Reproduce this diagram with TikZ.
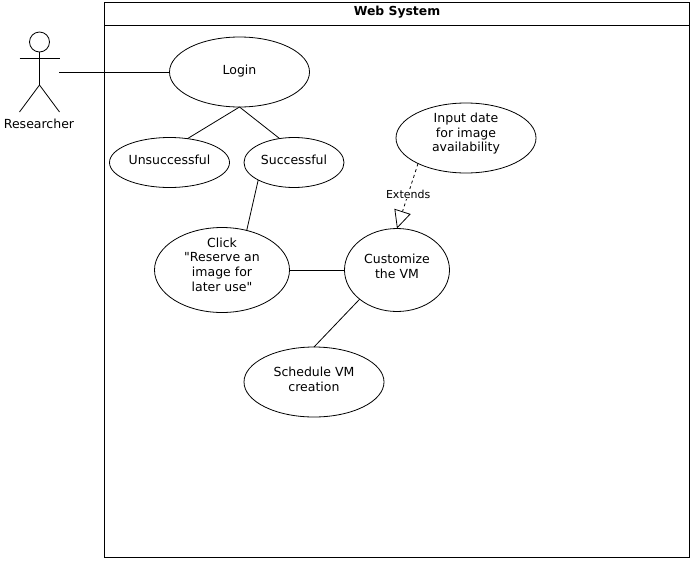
\documentclass[tikz,border=0pt]{standalone}
\usepackage{fontspec}
\setmainfont{DejaVu Sans}
\newfontfamily\plainquotes{DejaVu Sans}
\usetikzlibrary{arrows.meta}
\usetikzlibrary{shapes.geometric}

\tikzset{
  every picture/.style={line width=0.8pt},
  usecase/.style={draw, ellipse, inner sep=-10pt, outer sep=0pt, align=center, font=\plainquotes\fontsize{12.5}{14.7}\selectfont},
  frame/.style={draw, rectangle, inner sep=0pt, outer sep=0pt, minimum width=585pt}
}
% pushes the text of a node up by the given length
\newcommand{\lift}[1]{\rule[-#1]{0pt}{#1}}

\begin{document}
\begin{tikzpicture}[x=1pt, y=-1pt]
\useasboundingbox (0,0) rectangle (691,560);

\node [frame, minimum height=555pt] (system) at (397,280) {};
\node [frame, minimum height=23pt, font=\fontsize{12.4}{14}\selectfont\bfseries] (system-title) at (397,13.5) {Web System\lift{6pt}};

\node [draw, circle, inner sep=0pt, minimum size=20pt] (head) at (39.5,42) {};
\coordinate (hip) at (39.5,85);
\coordinate (hand-1) at (19.5,58);
\coordinate (hand-2) at (59.5,58);
\coordinate (foot-1) at (19.5,112);
\coordinate (foot-2) at (59.5,112);
\coordinate (actor-end) at (59,72);
\node [font=\fontsize{12.5}{14}\selectfont] (researcher) at (39,123.5) {Researcher};

\draw (head) -- (hip);
\draw (hand-1) -- (hand-2);
\foreach \i in {1,2}
  \draw (hip) -- (foot-\i);

\node [usecase, minimum width=140pt, minimum height=70pt] (login) at (239.5,72) {Login\lift{5pt}};
\node [usecase, minimum width=120pt, minimum height=50pt] (unsuccessful) at (169.5,162.5) {Unsuccessful\lift{6pt}};
\node [usecase, minimum width=100pt, minimum height=50pt] (successful) at (294,162.5) {Successful\lift{6pt}};
\node [usecase, minimum width=135pt, minimum height=85pt] (click) at (222,270) {Click\\"Reserve an\\image for\\later use"\lift{11pt}};
\node [usecase, minimum width=105pt, minimum height=83pt] (customize) at (397,270) {Customize\\the VM\lift{8pt}};
\node [usecase, minimum width=140pt, minimum height=70pt] (input) at (466,138) {Input date\\for image\\ availability\lift{11pt}};
\node [usecase, minimum width=140pt, minimum height=70pt] (schedule) at (314,382) {Schedule VM\\creation\lift{6pt}};

\draw (actor-end) -- (login.west);

\foreach \a/\b in {login.south/unsuccessful.53, login.south/successful.121,
    successful.206/click.58, click.east/customize.west,
    customize.218/schedule.north}
  \draw (\a) -- (\b);

\draw [dashed, dash pattern=on 3pt off 3pt, -{Triangle[open, fill=white, length=18pt, width=17pt]}] (input.208) -- (customize.north)
    node [pos=0.47, fill=white, inner sep=1pt, font=\fontsize{11}{12}\selectfont] (extends) {Extends};
\end{tikzpicture}
\end{document}
